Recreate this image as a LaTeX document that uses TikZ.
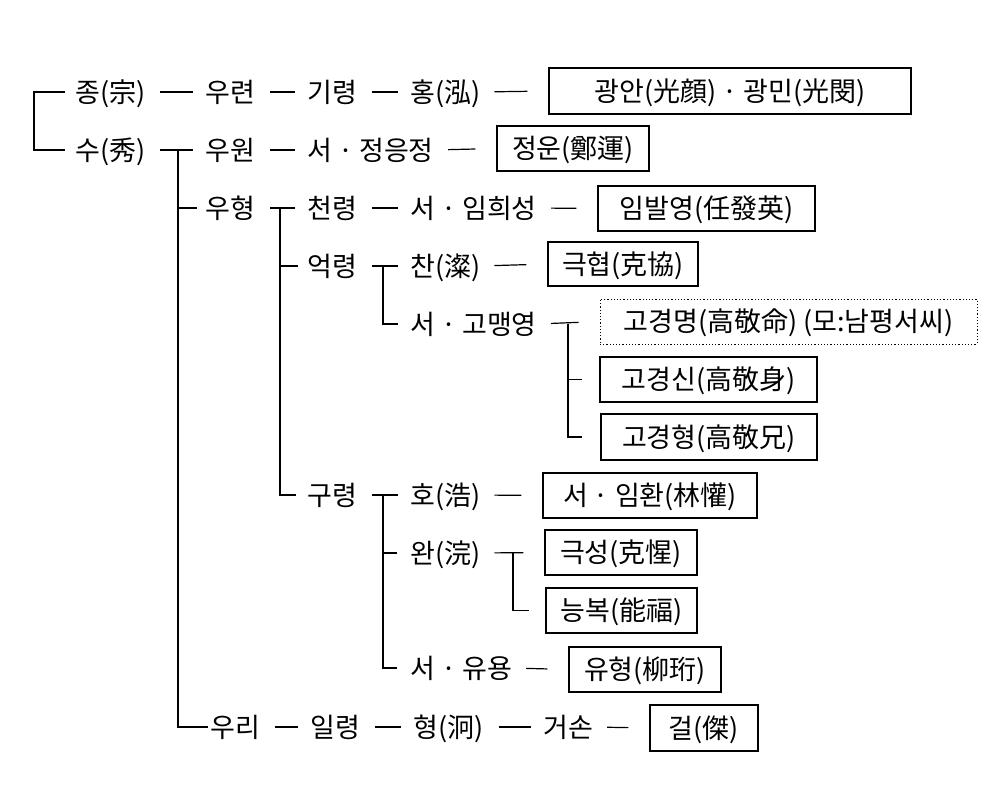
\documentclass[tikz,border=0pt]{standalone}
\usepackage{fontspec}
\setmainfont{Noto Sans CJK KR}
\begin{document}
\begin{tikzpicture}[x=1pt,y=-1pt,
  every node/.style={font=\fontsize{27}{31}\selectfont},
  t/.style={anchor=west, inner sep=0pt, text height=22pt, text depth=2pt},
  bx/.style={draw, line width=1.2pt, inner sep=0pt, text height=22pt, text depth=2pt},
  ln/.style={line width=1.2pt},
  d/.style={ln, shorten <=15pt, shorten >=12pt},
  db/.style={ln, shorten <=14pt, shorten >=21pt}]
\useasboundingbox (0,0) rectangle (1000,800);
% row 1
\node[t] (jong) at (75,92) {종(宗)};
\node[t] (uryeon) at (205,92) {우련};
\node[t] (giryeong) at (307,92) {기령};
\node[t] (hong) at (410,92) {홍(泓)};
\node[bx, minimum width=362pt, minimum height=46pt] (b1) at (730,91) {광안(光顔) · 광민(光閔)};
% row 2
\node[t] (su) at (75,150) {수(秀)};
\node[t] (uwon) at (205,150) {우원};
\node[t] (jeu) at (307,150) {서 · 정응정};
\node[bx, minimum width=152pt, minimum height=45pt] (b2) at (573,148.5) {정운(鄭運)};
% row 3
\node[t] (uhy) at (205,208) {우형};
\node[t] (cheon) at (307,208) {천령};
\node[t] (imh) at (410,208) {서 · 임희성};
\node[bx, minimum width=217pt, minimum height=45pt] (b3) at (706.5,208.5) {임발영(任發英)};
% row 4
\node[t] (eok) at (307,266) {억령};
\node[t] (chan) at (410,266) {찬(澯)};
\node[bx, minimum width=150pt, minimum height=44pt] (b4) at (623,264) {극협(克協)};
% row 5
\node[t] (gom) at (410,324) {서 · 고맹영};
\node[bx, dotted, line width=1pt, minimum width=377pt, minimum height=45pt] (b5) at (788.5,321.5) {고경명(高敬命) (모:남평서씨)};
% row 6,7
\node[bx, minimum width=217pt, minimum height=45pt] (b6) at (708.5,379.5) {고경신(高敬身)};
\node[bx, minimum width=216pt, minimum height=46pt] (b7) at (709,437) {고경형(高敬兄)};
% row 8
\node[t] (gu) at (307,495) {구령};
\node[t] (ho) at (410,495) {호(浩)};
\node[bx, minimum width=214pt, minimum height=45pt] (b8) at (650,495.5) {서 · 임환(林懽)};
% row 9,10
\node[t] (wan) at (410,553) {완(浣)};
\node[bx, minimum width=152pt, minimum height=45pt] (b9) at (621,552.5) {극성(克惺)};
\node[bx, minimum width=151pt, minimum height=45pt] (b10) at (621.5,610.5) {능복(能福)};
% row 11
\node[t] (yuy) at (410,668) {서 · 유용};
\node[bx, minimum width=152pt, minimum height=45pt] (b11) at (645,669.5) {유형(柳珩)};
% row 12
\node[t] (uri) at (210,727) {우리};
\node[t] (il) at (310,727) {일령};
\node[t] (hyeong) at (413,727) {형(泂)};
\node[t] (geo) at (543,727) {거손};
\node[bx, minimum width=108pt, minimum height=46pt] (b12) at (704,728) {걸(傑)};
% junctions
\coordinate (R) at (34,121);
\coordinate (J1) at (178,150);
\coordinate (J2) at (280,208);
\coordinate (J3) at (383,266);
\coordinate (J4) at (568,324);
\coordinate (J5) at (383,495);
\coordinate (J6) at (513,553);
% dashes
\draw[d] (jong.east) -- (uryeon.west);
\draw[d] (uryeon.east) -- (giryeong.west);
\draw[d] (giryeong.east) -- (hong.west);
\draw[db] (hong.east) -- (b1.west);
\draw[d] (su.east) -- (uwon.west);
\draw[d] (uwon.east) -- (jeu.west);
\draw[db] (jeu.east) -- (b2.west);
\draw[d] (uhy.east) -- (cheon.west);
\draw[d] (cheon.east) -- (imh.west);
\draw[db] (imh.east) -- (b3.west);
\draw[d] (eok.east) -- (chan.west);
\draw[db] (chan.east) -- (b4.west);
\draw[db] (gom.east) -- (b5.west);
\draw[d] (gu.east) -- (ho.west);
\draw[db] (ho.east) -- (b8.west);
\draw[db] (wan.east) -- (b9.west);
\draw[db] (yuy.east) -- (b11.west);
\draw[d] (uri.east) -- (il.west);
\draw[d] (il.east) -- (hyeong.west);
\draw[d] (hyeong.east) -- (geo.west);
\draw[db] (geo.east) -- (b12.west);
% tree lines
\draw[ln] ([xshift=-10pt]jong.west) -| (R) |- ([xshift=-10pt]su.west);
\draw[ln] (J1) |- ([xshift=-8pt]uhy.west);
\draw[ln] (J1) |- ([xshift=-2pt]uri.west);
\draw[ln] (J2) |- ([xshift=-9pt]eok.west);
\draw[ln] (J2) |- ([xshift=-11pt]gu.west);
\draw[ln] (J3) |- ([xshift=-12pt]gom.west);
\draw[ln] (J4) |- ([xshift=-17pt]b6.west);
\draw[ln] (J4) |- ([xshift=-18pt]b7.west);
\draw[ln] (J5) |- ([xshift=-13pt]wan.west);
\draw[ln] (J5) |- ([xshift=-13pt]yuy.west);
\draw[ln] (J6) |- ([xshift=-16pt]b10.west);
\end{tikzpicture}
\end{document}
